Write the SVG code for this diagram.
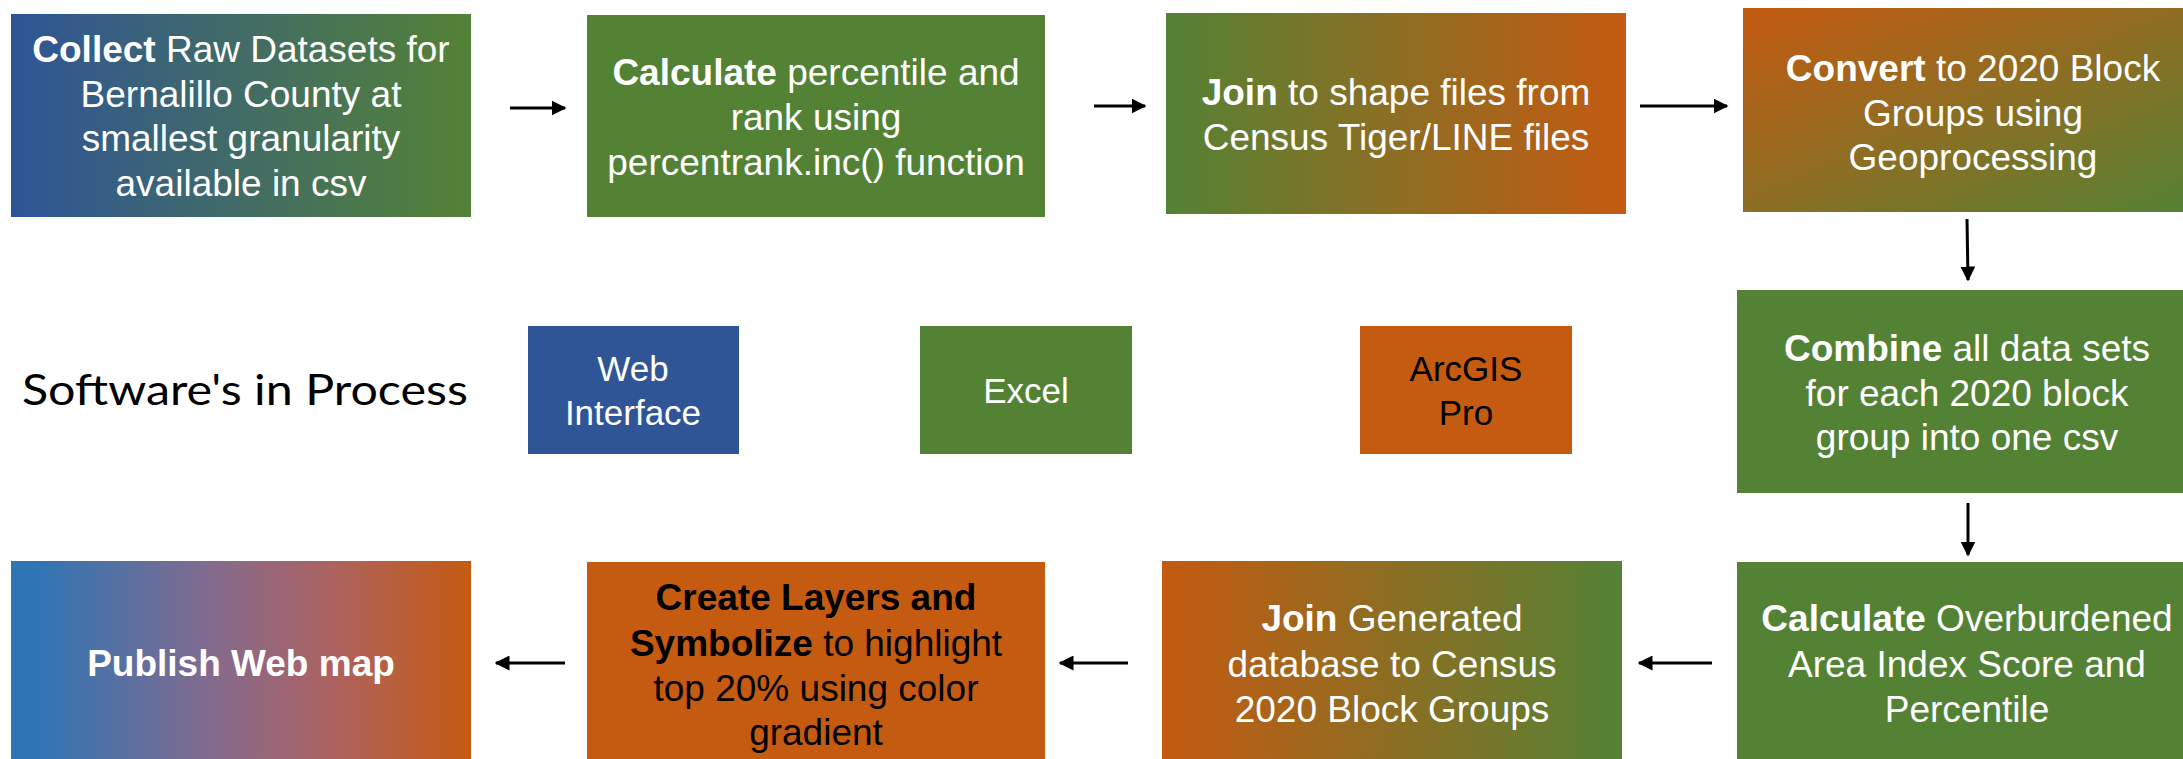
<svg xmlns="http://www.w3.org/2000/svg" width="2183" height="759" viewBox="0 0 2183 759">
<style>
.t{font-family:"Liberation Sans",Arial,sans-serif;font-size:37px;text-anchor:middle;fill:#fff}
.k{fill:#000}
.b{font-weight:bold}
.s{font-family:"Liberation Sans",Arial,sans-serif;font-size:35px;text-anchor:middle}
.c{stroke:#000;stroke-width:3;fill:none;marker-end:url(#ah)}
</style>
<defs>
<marker id="ah" viewBox="0 0 10 10" refX="9" refY="5" markerWidth="5" markerHeight="5" orient="auto" markerUnits="strokeWidth"><path d="M0,0 L10,5 L0,10 z" fill="#000"/></marker>
<linearGradient id="g1" x1="0" y1="0" x2="1" y2="0"><stop offset="0" stop-color="#2F5597"/><stop offset="1" stop-color="#548235"/></linearGradient>
<linearGradient id="g3" x1="0" y1="0" x2="1" y2="0"><stop offset="0" stop-color="#548235"/><stop offset="1" stop-color="#C55A11"/></linearGradient>
<linearGradient id="g4" x1="0" y1="0" x2="1" y2="1"><stop offset="0" stop-color="#C55A11"/><stop offset="1" stop-color="#548235"/></linearGradient>
<linearGradient id="g7" x1="0" y1="0" x2="1" y2="0"><stop offset="0" stop-color="#C55A11"/><stop offset="1" stop-color="#548235"/></linearGradient>
<linearGradient id="g9" x1="0" y1="0" x2="1" y2="0"><stop offset="0" stop-color="#2E75B6"/><stop offset="0.05" stop-color="#2F75B5"/><stop offset="0.45" stop-color="#866A8C"/><stop offset="0.7" stop-color="#AD6260"/><stop offset="1" stop-color="#C55A11"/></linearGradient>
</defs>
<rect width="2183" height="759" fill="#fff"/>
<g id="collect">
<rect x="11" y="14" width="460" height="203" fill="url(#g1)"/>
<text class="t" x="241" y="62"><tspan class="b">Collect</tspan> Raw Datasets for</text>
<text class="t" x="241" y="107">Bernalillo County at</text>
<text class="t" x="241" y="151">smallest granularity</text>
<text class="t" x="241" y="196">available in csv</text>
</g>
<g id="calc-percentile">
<rect x="587" y="15" width="458" height="202" fill="#548235"/>
<text class="t" x="816" y="85"><tspan class="b">Calculate</tspan> percentile and</text>
<text class="t" x="816" y="130">rank using</text>
<text class="t" x="816" y="175">percentrank.inc() function</text>
</g>
<g id="join-shape">
<rect x="1166" y="13" width="460" height="201" fill="url(#g3)"/>
<text class="t" x="1396" y="105"><tspan class="b">Join</tspan> to shape files from</text>
<text class="t" x="1396" y="150">Census Tiger/LINE files</text>
</g>
<g id="convert">
<rect x="1743" y="8" width="460" height="204" fill="url(#g4)"/>
<text class="t" x="1973" y="81"><tspan class="b">Convert</tspan> to 2020 Block</text>
<text class="t" x="1973" y="126">Groups using</text>
<text class="t" x="1973" y="170">Geoprocessing</text>
</g>
<g id="combine">
<rect x="1737" y="290" width="460" height="203" fill="#548235"/>
<text class="t" x="1967" y="361"><tspan class="b">Combine</tspan> all data sets</text>
<text class="t" x="1967" y="406">for each 2020 block</text>
<text class="t" x="1967" y="450">group into one csv</text>
</g>
<g id="calc-index">
<rect x="1737" y="562" width="460" height="204" fill="#548235"/>
<text class="t" x="1967" y="631"><tspan class="b">Calculate</tspan> Overburdened</text>
<text class="t" x="1967" y="677">Area Index Score and</text>
<text class="t" x="1967" y="722">Percentile</text>
</g>
<g id="join-db">
<rect x="1162" y="561" width="460" height="204" fill="url(#g7)"/>
<text class="t" x="1392" y="631"><tspan class="b">Join</tspan> Generated</text>
<text class="t" x="1392" y="677">database to Census</text>
<text class="t" x="1392" y="722">2020 Block Groups</text>
</g>
<g id="layers">
<rect x="587" y="562" width="458" height="204" fill="#C55A11"/>
<text class="t k" x="816" y="610"><tspan class="b">Create Layers and</tspan></text>
<text class="t k" x="816" y="656"><tspan class="b">Symbolize</tspan> to highlight</text>
<text class="t k" x="816" y="701">top 20% using color</text>
<text class="t k" x="816" y="745">gradient</text>
</g>
<g id="publish">
<rect x="11" y="561" width="460" height="204" fill="url(#g9)"/>
<text class="t b" x="241" y="676">Publish Web map</text>
</g>
<g id="legend-title">
<text x="22" y="405" font-family="Lato,'Open Sans',sans-serif" font-size="42" fill="#000" textLength="446" lengthAdjust="spacingAndGlyphs">Software's in Process</text>
</g>
<g id="web-interface">
<rect x="528" y="326" width="211" height="128" fill="#2F5597"/>
<text class="s" x="633" y="381" fill="#fff">Web</text>
<text class="s" x="633" y="425" fill="#fff">Interface</text>
</g>
<g id="excel">
<rect x="920" y="326" width="212" height="128" fill="#548235"/>
<text class="s" x="1026" y="403" fill="#fff">Excel</text>
</g>
<g id="arcgis">
<rect x="1360" y="326" width="212" height="128" fill="#C55A11"/>
<text class="s" x="1466" y="381" fill="#000">ArcGIS</text>
<text class="s" x="1466" y="425" fill="#000">Pro</text>
</g>
<g id="connectors">
<line class="c" x1="510" y1="108" x2="565" y2="108"/>
<line class="c" x1="1094" y1="106" x2="1145" y2="106"/>
<line class="c" x1="1640" y1="106" x2="1727" y2="106"/>
<line class="c" x1="1967" y1="219" x2="1968" y2="280"/>
<line class="c" x1="1968" y1="503" x2="1968" y2="555"/>
<line class="c" x1="1712" y1="663" x2="1639" y2="663"/>
<line class="c" x1="1128" y1="663" x2="1060" y2="663"/>
<line class="c" x1="565" y1="663" x2="496" y2="663"/>
</g>
</svg>
